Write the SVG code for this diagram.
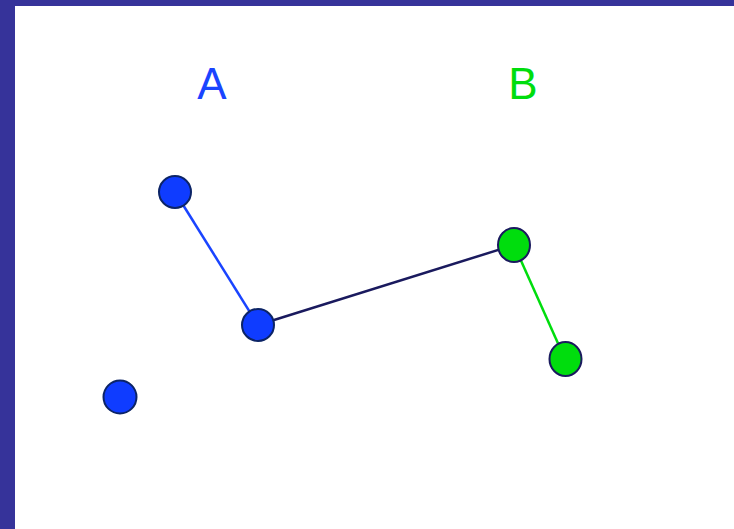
<svg xmlns="http://www.w3.org/2000/svg" width="734" height="529" viewBox="0 0 734 529">
<style>
.lbl{font-family:"Liberation Sans",Arial,sans-serif;font-size:44px;text-anchor:middle}
.bn{fill:#0f3cff;stroke:#0c2466;stroke-width:2}
.gn{fill:#00dd0d;stroke:#1a1a5e;stroke-width:2}
</style>
<rect x="0" y="0" width="734" height="529" fill="#ffffff"/>
<rect x="0" y="0" width="734" height="6" fill="#36339a"/>
<rect x="0" y="0" width="15" height="529" fill="#36339a"/>
<text class="lbl" x="212" y="99" fill="#1a44ff">A</text>
<text class="lbl" x="523" y="99" fill="#00dd0d">B</text>
<g id="connectors">
<line x1="175" y1="192" x2="258" y2="325" stroke="#1a44ff" stroke-width="2.5"/>
<line x1="258" y1="325" x2="514" y2="245" stroke="#1a1a5e" stroke-width="2.5"/>
<line x1="514" y1="245" x2="565" y2="359" stroke="#00dd0d" stroke-width="2.5"/>
</g>
<g id="a1"><circle class="bn" cx="175" cy="192" r="16"/></g>
<g id="a2"><circle class="bn" cx="258" cy="325" r="16"/></g>
<g id="a3"><circle class="bn" cx="120" cy="397" r="16.5"/></g>
<g id="b1"><ellipse class="gn" cx="514" cy="245" rx="16" ry="17"/></g>
<g id="b2"><ellipse class="gn" cx="565.5" cy="359" rx="16" ry="17"/></g>
</svg>
